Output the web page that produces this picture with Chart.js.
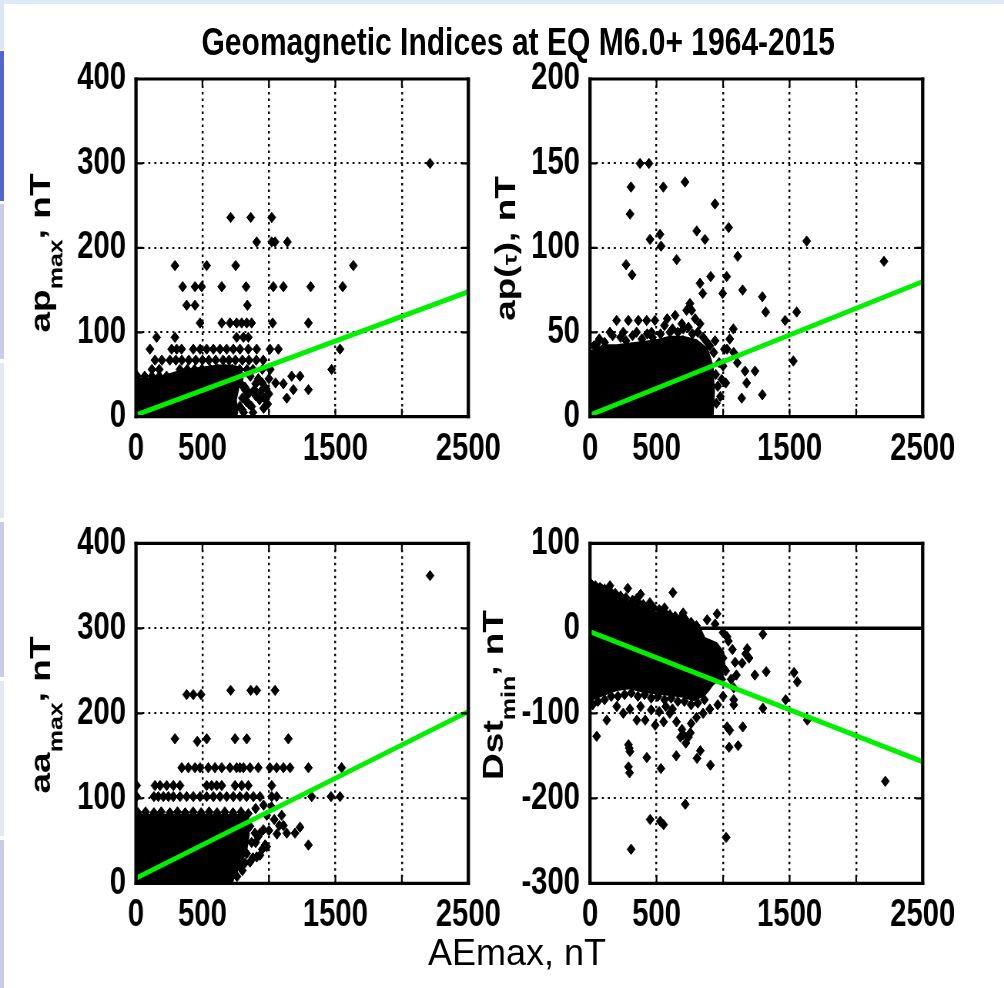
<!DOCTYPE html>
<html>
<head>
<meta charset="utf-8">
<script src="https://cdn.jsdelivr.net/npm/chart.js@4.4.1/dist/chart.umd.min.js"></script>
<style>
html,body{margin:0;padding:0;background:#fff;overflow:hidden;width:1004px;height:988px;}
#stage{position:absolute;left:0;top:0;width:1304px;height:988px;transform:scaleX(0.77);transform-origin:0 0;}
#stage canvas{position:absolute;}
#title{position:absolute;left:0;width:1346px;top:22px;text-align:center;font:bold 39px/1 "Liberation Sans",Arial,Helvetica,sans-serif;color:#000;white-space:nowrap;}
#xlabel{position:absolute;left:428px;top:935px;font:36px/1 "Liberation Sans",Arial,Helvetica,sans-serif;color:#000;white-space:nowrap;}
.deco{position:absolute;}
</style>
</head>
<body>
<div class="deco" style="left:0;top:0;width:1004px;height:4px;background:#dfeaf6"></div>
<div class="deco" style="left:0;top:0;width:4px;height:50px;background:#dbe7f4"></div>
<div class="deco" style="left:0;top:51px;width:4px;height:150px;background:#5165cf"></div>
<div class="deco" style="left:0;top:204px;width:4px;height:155px;background:#c8ccec"></div>
<div class="deco" style="left:0;top:363px;width:4px;height:155px;background:#e4e7f5"></div>
<div class="deco" style="left:0;top:522px;width:4px;height:155px;background:#c8ccec"></div>
<div class="deco" style="left:0;top:681px;width:4px;height:155px;background:#e4e7f5"></div>
<div class="deco" style="left:0;top:840px;width:4px;height:148px;background:#c8ccec"></div>

<div id="stage">
  <div id="title">Geomagnetic Indices at EQ M6.0+ 1964-2015</div>
  <canvas id="c1" width="660" height="494" style="left:0;top:0"></canvas>
  <canvas id="c2" width="704" height="494" style="left:600px;top:0"></canvas>
  <canvas id="c3" width="660" height="494" style="left:0;top:494px"></canvas>
  <canvas id="c4" width="704" height="494" style="left:600px;top:494px"></canvas>
</div>
<div id="xlabel">AEmax, nT</div>

<script>
// ---------- tick labels ----------
const xTickText = ['0', '500', '', '1500', '', '2500'];
const yTicksApMax = ['0', '100', '200', '300', '400'];
const yTicksApTau = ['0', '50', '100', '150', '200'];
const yTicksAaMax = ['0', '100', '200', '300', '400'];
const yTicksDst = ['-300', '-200', '-100', '0', '100'];

// ---------- panel 1: ap_max vs AEmax ----------
// outline of the region where the markers overlap completely
const apMaxCore = [[0,0],[0,44],[100,45],[200,47],[300,52],[420,56],[520,58],[620,60],[720,60],[790,57],[800,45],[770,35],[750,20],[760,5],[750,0]];
const apMaxPts = [
  [2212,300],
  [712,236],[863,236],[1021,236],
  [908,207],[1021,207],[1046,207],[1139,207],
  [293,179],[532,179],[750,179],[1635,179],
  [351,154],[444,154],[494,154],[645,154],[828,154],[1033,154],[1109,154],[1314,154],[1555,154],
  [381,132],[444,132],[838,132],
  [482,111],[645,111],[707,111],[757,111],[795,111],[833,111],[870,111],[1028,111],[1297,111],
  [155,94],[293,94],[757,94],[808,94],[845,94],
  [105,80],[268,80],[306,80],[343,80],[431,80],[482,80],[532,80],[582,80],[632,80],[682,80],[732,80],[782,80],[845,80],[908,80],[1008,80],[1071,80],[1535,80],
  [143,67],[195,67],[255,67],[300,67],[345,67],[398,67],[450,67],[500,67],[548,67],[600,67],[655,67],[700,67],[748,67],[800,67],[850,67],[905,67],[957,67],
  [120,56],[175,56],[330,56],[385,56],[440,56],[495,56],[560,56],[615,56],[670,56],[725,56],[780,56],[835,56],
  [10,48],[65,48],[120,48],[175,48],[230,48],
  [1472,56],[1010,56],[950,56],[880,56],
  [1109,39],[1171,48],[1234,48],[1184,32],[1134,22],[1297,32],
  [790,39],[820,32],[800,22],[840,27],[780,12],[810,5],[850,15],[900,39],[860,48],[890,32],[940,30],[965,22],[990,15],
  [820,35],[850,28],[900,25],[870,12],[830,18],[950,40],[930,20],[980,33],[1000,27],[880,5],[800,8],[960,10],[920,45],[1000,45],[1050,40]
];
const fitApMax = [[0,2],[2500,148]];

// ---------- panel 2: ap(tau) vs AEmax ----------
const apTauCore = [[0,0],[0,38],[100,42],[200,42],[300,43],[400,44],[500,45],[600,47],[700,47],[800,45],[880,40],[920,30],[930,15],[920,0]];
const apTauPts = [
  [376,150],[443,150],[308,136],[551,136],[714,139],[301,120],[939,126],[802,110],[864,105],[451,105],[526,108],[534,101],[1042,112],[1628,104],[1110,95],[651,93],[2209,92],
  [271,90],[316,84],[907,83],[1027,83],[827,79],[847,73],[997,73],[1147,75],[1295,71],[1320,62],[1553,62],[1466,57],[1528,33],[1295,13],[1140,11],[1177,20],[1240,27],[1165,27],[1107,32],
  [1077,52],[1050,46],[1030,40],[1080,38],[1000,30],[1020,20],[980,12],
  [50,43],[150,50],[200,57],[250,50],[288,57],[350,50],[363,57],[426,57],[463,50],[488,57],[601,50],[701,52],[726,63],[764,63],[751,67],[640,60],[580,58],[827,55],[790,58],[20,30],[700,45],
  [30,42],[70,46],[110,44],[170,48],[230,47],[270,45],[320,48],[390,46],[430,49],[470,47],[530,49],[560,54],[620,52],[660,50],[690,55],[740,53],[770,49],[810,50],[850,47],[880,44],[900,42],
  [930,38],[945,25],[960,18],[950,8],[970,32],[990,22],[940,45],[1010,40]
];
const fitApTau = [[0,1],[2500,80]];

// ---------- panel 3: aa_max vs AEmax ----------
const aaMaxCore = [[0,0],[0,80],[830,80],[850,70],[845,55],[830,40],[800,28],[760,15],[730,5],[720,0]];
const aaMaxPts = [
  [2212,362],
  [381,222],[431,222],[489,222],[712,227],[863,227],[908,227],[1046,227],
  [293,170],[461,167],[532,170],[745,170],[833,170],[1146,170],
  [344,136],[394,136],[444,136],[482,136],[544,136],[594,136],[645,136],[707,136],[757,136],[782,136],[808,136],[858,136],[920,136],[1008,136],[1058,136],[1109,136],[1159,136],[1297,136],[1547,136],
  [5,115],[143,115],[181,115],[231,115],[281,115],[331,115],[532,115],[569,115],[607,115],[645,115],[745,115],[795,115],[845,115],[1021,115],
  [5,102],[135,102],[168,102],[206,102],[244,102],[281,102],[331,102],[381,102],[431,102],[482,102],[532,102],[582,102],[632,102],[682,102],[732,102],[782,102],[832,102],[883,102],[933,102],[1021,102],[1058,102],[1322,102],[1467,102],[1535,102],
  [15,83],[72,84],[135,83],[190,84],[255,83],[312,84],[370,83],[430,84],[490,83],[550,84],[610,83],[668,84],[730,83],[790,84],[845,82],
  [858,67],[895,59],[933,59],[958,63],[971,45],[983,43],[908,31],[858,25],[820,24],[783,22],[833,35],[870,48],[760,8],[800,15],[700,4],
  [983,80],[1096,80],[1109,68],[1078,68],[1234,66],[1134,59],[1196,59],[1297,45],[971,45],[933,33],[695,12],[1040,75],[1020,90],[960,92],[900,88],[1000,62],[920,55],[950,40],[880,30],[900,48],[1060,58]
];
const fitAaMax = [[0,6],[2500,202]];

// ---------- panel 4: Dst_min vs AEmax ----------
const dstCore = [[0,46],[60,46],[120,42],[200,36],[300,30],[420,22],[520,17],[650,11],[760,5],[830,-2],[860,-12],[950,-18],[1000,-28],[1010,-45],[980,-58],[920,-66],[860,-78],[780,-84],[700,-80],[600,-78],[500,-76],[400,-74],[300,-70],[200,-72],[100,-78],[0,-84]];
const dstPts = [
  [20,45],[50,48],[90,46],[150,50],[284,47],[352,35],[380,40],[450,30],[560,24],[623,42],[700,18],[880,10],[940,5],[955,17],[1000,-5],[1030,-10],[1070,-25],[1090,-40],[1100,-55],
  [1299,-7],[1181,-24],[1170,-30],[1195,-35],[1143,-41],[1239,-55],[1324,-51],[1533,-52],[1558,-63],[1470,-84],[1299,-94],[1633,-108],
  [1080,-84],[1080,-90],[1030,-116],[1050,-120],[1148,-116],[1113,-138],[1045,-140],[905,-161],[829,-144],[804,-153],[716,-207],[648,-150],[427,-152],[533,-165],[452,-225],[528,-227],[553,-231],[309,-260],
  [289,-137],[295,-141],[300,-145],[289,-163],[297,-170],[50,-127],[126,-108],[1023,-246],[2219,-180],
  [691,-119],[754,-123],[700,-125],[740,-128],[352,-108],[415,-108],[490,-114],[553,-110],[201,-92],
  [600,-100],[650,-110],[680,-128],[720,-135],[760,-112],[800,-105],[850,-100],[900,-95],[960,-90],[1000,-80],
  [250,-100],[300,-95],[380,-92],[460,-96],[520,-98],[570,-92],[620,-95],
  [10,52],[40,50],[75,48],[110,46],[150,44],[190,41],[230,38],[270,36],[320,33],[360,31],[400,28],[440,26],[480,24],[520,22],[560,19],[600,16],[640,14],[680,12],[720,10],[760,7],[800,3],
  [20,-90],[60,-86],[110,-84],[160,-80],[210,-80],[260,-78],[310,-76],[360,-80],[410,-78],[460,-82],[510,-80],[560,-84],[610,-82],[660,-86],[710,-86],[760,-90],[810,-88],[860,-84],
  [880,-20],[920,-30],[960,-25],[1000,-35],[1020,-50],[990,-60],[950,-55],[900,-62],[880,-70],[1040,-15],[1060,-60],[1080,-70]
];
const fitDst = [[0,-4],[2500,-157]];
const dstZeroLine = [[0,0],[2500,0]];

// ---------- rendering ----------
const FONT = '"Liberation Sans", Arial, Helvetica, sans-serif';
const GREEN = '#00f000';
const toXY = a => a.map(p => ({x: p[0], y: p[1]}));

const framePlugin = {
  id: 'frame',
  afterDraw(chart) {
    const {ctx, chartArea: a, scales: {x, y}} = chart;
    ctx.save();
    ctx.strokeStyle = '#000';
    ctx.lineWidth = 2.2;
    ctx.beginPath();
    x.ticks.forEach(t => {
      if (t.value <= x.min || t.value >= x.max) return;
      const px = x.getPixelForValue(t.value);
      ctx.moveTo(px, a.bottom); ctx.lineTo(px, a.bottom - 8);
      ctx.moveTo(px, a.top); ctx.lineTo(px, a.top + 8);
    });
    y.ticks.forEach(t => {
      if (t.value <= y.min || t.value >= y.max) return;
      const py = y.getPixelForValue(t.value);
      ctx.moveTo(a.left, py); ctx.lineTo(a.left + 9, py);
      ctx.moveTo(a.right, py); ctx.lineTo(a.right - 9, py);
    });
    ctx.stroke();
    ctx.lineWidth = 3.2;
    ctx.beginPath();
    ctx.moveTo(a.left - 2, a.top); ctx.lineTo(a.right + 2, a.top);
    ctx.moveTo(a.left - 2, a.bottom); ctx.lineTo(a.right + 2, a.bottom);
    ctx.stroke();
    ctx.lineWidth = 4.3;
    ctx.beginPath();
    ctx.moveTo(a.left, a.top - 1.5); ctx.lineTo(a.left, a.bottom + 1.5);
    ctx.moveTo(a.right, a.top - 1.5); ctx.lineTo(a.right, a.bottom + 1.5);
    ctx.stroke();
    ctx.restore();
  }
};

const yLabelPlugin = {
  id: 'ylabel',
  afterDraw(chart, args, opts) {
    const ctx = chart.ctx;
    ctx.save();
    ctx.translate(opts.x, opts.y);
    ctx.rotate(-Math.PI / 2);
    ctx.fillStyle = '#000';
    ctx.textBaseline = 'alphabetic';
    ctx.textAlign = 'left';
    let total = 0;
    const widths = opts.parts.map(p => {
      ctx.font = 'bold ' + p.size + 'px ' + FONT;
      const w = ctx.measureText(p.text).width;
      total += w;
      return w;
    });
    let cx = -total / 2;
    opts.parts.forEach((p, i) => {
      ctx.font = 'bold ' + p.size + 'px ' + FONT;
      ctx.fillText(p.text, cx, p.dy || 0);
      cx += widths[i];
    });
    ctx.restore();
  }
};

function makePanel(id, cfg) {
  const datasets = [
    {type: 'line', data: toXY(cfg.fit), borderColor: GREEN, borderWidth: 5, pointRadius: 0, fill: false, tension: 0, order: 0}
  ];
  if (cfg.zero) {
    datasets.push({type: 'line', data: toXY(cfg.zero), borderColor: '#000', borderWidth: 3.5, pointRadius: 0, fill: false, tension: 0, order: 1});
  }
  datasets.push({type: 'scatter', data: toXY(cfg.pts), pointStyle: 'rectRot', pointRadius: 5.2, backgroundColor: '#000', borderColor: '#000', borderWidth: 1, order: 2});
  datasets.push({type: 'line', data: toXY(cfg.core), borderColor: '#000', backgroundColor: '#000', borderWidth: 3, pointRadius: 0, fill: 'shape', tension: 0, order: 3});

  const tickFont = {family: FONT, size: 38, weight: 'bold', lineHeight: 1.2};
  return new Chart(document.getElementById(id), {
    type: 'scatter',
    data: {datasets},
    plugins: [framePlugin, yLabelPlugin],
    options: {
      animation: false,
      responsive: false,
      events: [],
      layout: {padding: {left: 0, top: cfg.padTop, right: cfg.padRight, bottom: 0}},
      plugins: {
        legend: {display: false},
        tooltip: {enabled: false},
        title: {display: false},
        ylabel: cfg.label
      },
      scales: {
        x: {
          type: 'linear', min: 0, max: 2500,
          afterFit(s) { s.height = cfg.xH; s.paddingLeft = 0; s.paddingRight = 0; },
          ticks: {stepSize: 500, autoSkip: false, maxRotation: 0, minRotation: 0, padding: cfg.xPad, color: '#000', font: tickFont,
                  callback: (v, i) => xTickText[i]},
          grid: {color: '#000', lineWidth: 2.4, drawTicks: false},
          border: {display: false, dash: [2.5, 4]}
        },
        y: {
          type: 'linear', min: cfg.ymin, max: cfg.ymax,
          afterFit(s) { s.width = cfg.yW; s.paddingTop = 0; s.paddingBottom = 0; },
          ticks: {stepSize: cfg.ystep, autoSkip: false, padding: 13, color: '#000', font: tickFont,
                  callback: (v, i) => cfg.yTicks[i]},
          grid: {color: '#000', lineWidth: 2, drawTicks: false},
          border: {display: false, dash: [2.6, 5.2]}
        }
      }
    }
  });
}

makePanel('c1', {
  fit: fitApMax, pts: apMaxPts, core: apMaxCore,
  ymin: 0, ymax: 400, ystep: 100, yTicks: yTicksApMax,
  padTop: 79, padRight: 51.8, xH: 77.3, yW: 176.6, xPad: 10,
  label: {x: 65, y: 253, parts: [{text: 'ap', size: 37}, {text: 'max', size: 25, dy: 16}, {text: ',', size: 37, dy: -7}, {text: ' nT', size: 37}]}
});
makePanel('c2', {
  fit: fitApTau, pts: apTauPts, core: apTauCore,
  ymin: 0, ymax: 200, ystep: 50, yTicks: yTicksApTau,
  padTop: 79, padRight: 105.7, xH: 77.3, yW: 166.2, xPad: 10,
  label: {x: 68.8, y: 248.5, parts: [{text: 'ap(', size: 37}, {text: 'τ', size: 25, dy: 2}, {text: '), nT', size: 37}]}
});
makePanel('c3', {
  fit: fitAaMax, pts: aaMaxPts, core: aaMaxCore,
  ymin: 0, ymax: 400, ystep: 100, yTicks: yTicksAaMax,
  padTop: 49.3, padRight: 51.8, xH: 104.7, yW: 176.6, xPad: 9,
  label: {x: 65, y: 221, parts: [{text: 'aa', size: 37}, {text: 'max', size: 25, dy: 16}, {text: ',', size: 37, dy: -7}, {text: ' nT', size: 37}]}
});
makePanel('c4', {
  fit: fitDst, zero: dstZeroLine, pts: dstPts, core: dstCore,
  ymin: -300, ymax: 100, ystep: 100, yTicks: yTicksDst,
  padTop: 49.3, padRight: 105.7, xH: 104.7, yW: 166.2, xPad: 9,
  label: {x: 53.2, y: 201, parts: [{text: 'Dst', size: 37}, {text: 'min', size: 25, dy: 16}, {text: ',', size: 37, dy: -7}, {text: ' nT', size: 37}]}
});
</script>
</body>
</html>
